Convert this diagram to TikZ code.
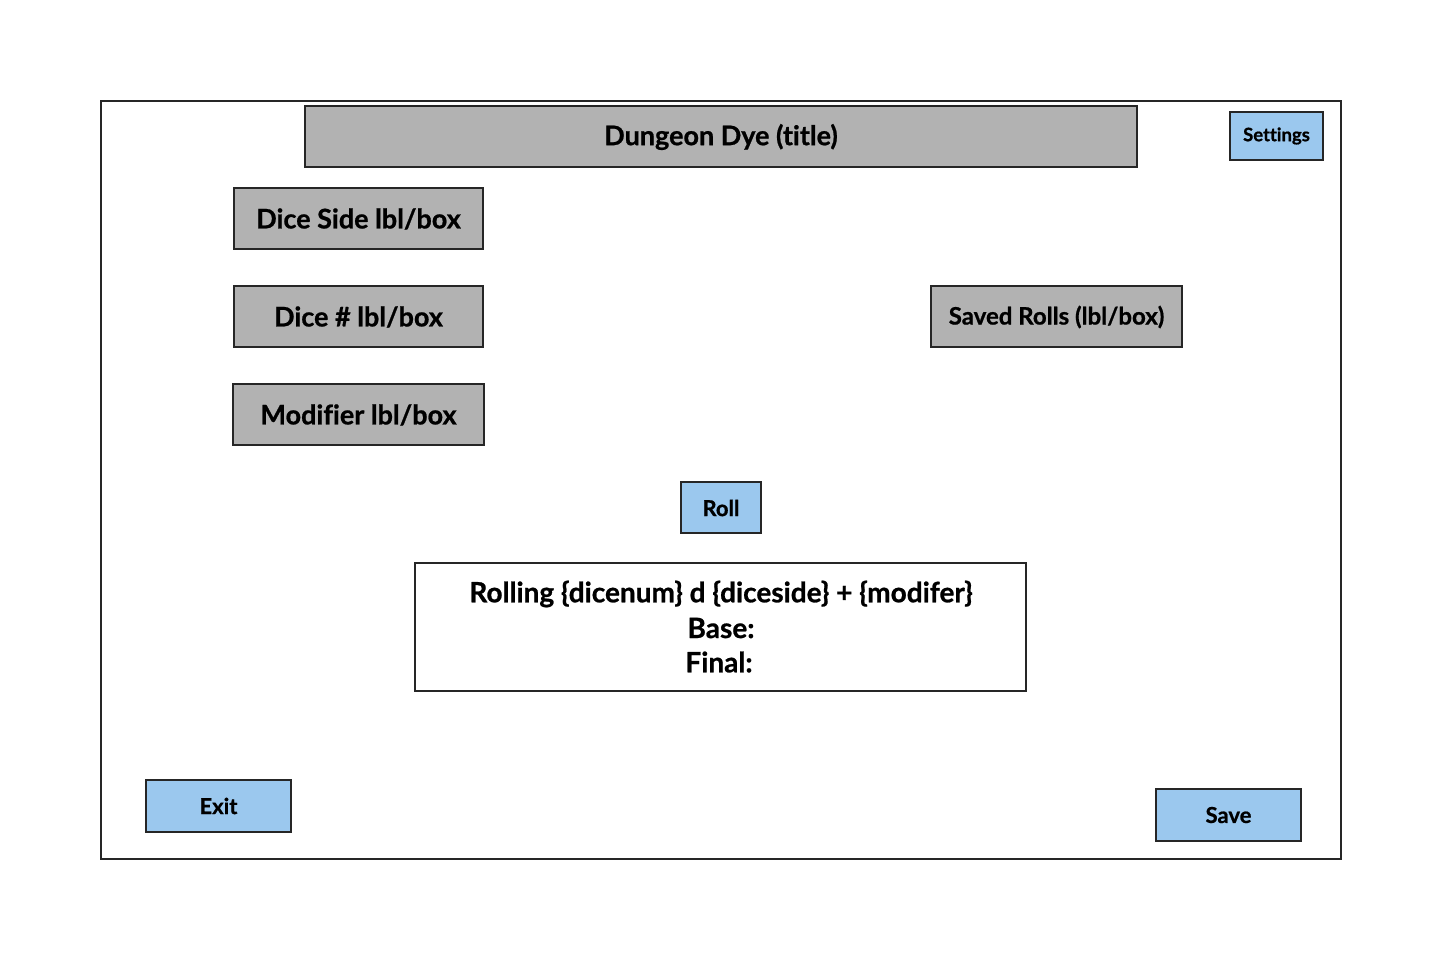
\documentclass[tikz,border=0pt]{standalone}
\usepackage{fontspec}
\setmainfont{Lato}[Ligatures=NoCommon,BoldFeatures={FakeBold=0.8}]
\begin{document}
\begin{tikzpicture}[x=1pt,y=-1pt,
  frame/.style={draw=black!85,line width=2pt},
  graybox/.style={draw=black!85,line width=2pt,fill=black!30,font=\bfseries},
  bluebtn/.style={draw=black!85,line width=2pt,fill=blueb,font=\bfseries},
  lbl/.style={inner sep=0pt,font=\bfseries}]
\definecolor{blueb}{HTML}{9BC8EE}
\useasboundingbox (0,0) rectangle (1442,961);
\draw[frame] (101,101) rectangle (1341,859);
% title
\draw[graybox] (305,106) rectangle (1137,167);
\node[lbl,font=\bfseries\fontsize{27}{32}\selectfont] (title) at (721,137) {Dungeon Dye (title)};
% settings
\draw[bluebtn] (1230,112) rectangle (1323,160);
\node[lbl,font=\bfseries\fontsize{18.5}{22}\selectfont] (settings) at (1276.5,136) {Settings};
% dice side
\draw[graybox] (234,188) rectangle (483,249);
\node[lbl,font=\bfseries\fontsize{27}{32}\selectfont] (diceside) at (358.5,219) {Dice Side lbl/box};
\draw[graybox] (234,286) rectangle (483,347);
\node[lbl,font=\bfseries\fontsize{27}{32}\selectfont] (dicenum) at (358.5,317) {Dice \# lbl/box};
\draw[graybox] (233,384) rectangle (484,445);
\node[lbl,font=\bfseries\fontsize{27}{32}\selectfont] (modifier) at (358.5,415) {Modifier lbl/box};
% saved rolls
\draw[graybox] (931,286) rectangle (1182,347);
\node[lbl,font=\bfseries\fontsize{24}{28}\selectfont] (saved) at (1056.5,317) {Saved Rolls (lbl/box)};
% roll
\draw[bluebtn] (681,482) rectangle (761,533);
\node[lbl,font=\bfseries\fontsize{22}{26}\selectfont] (roll) at (721,508) {Roll};
% result
\draw[frame,fill=white] (415,563) rectangle (1026,691);
\node[lbl,font=\bfseries\fontsize{28}{32}\selectfont] (l1) at (721,594) {Rolling \{dicenum\} d \{diceside\} + \{modifer\}};
\node[lbl,font=\bfseries\fontsize{28}{32}\selectfont] (l2) at (721,628) {Base:};
\node[lbl,font=\bfseries\fontsize{28}{32}\selectfont] (l3) at (719,662) {Final:};
% exit / save
\draw[bluebtn] (146,780) rectangle (291,832);
\node[lbl,font=\bfseries\fontsize{22}{26}\selectfont] (exit) at (218.5,806) {Exit};
\draw[bluebtn] (1156,789) rectangle (1301,841);
\node[lbl,font=\bfseries\fontsize{22}{26}\selectfont] (save) at (1228.5,815) {Save};
\end{tikzpicture}
\end{document}
